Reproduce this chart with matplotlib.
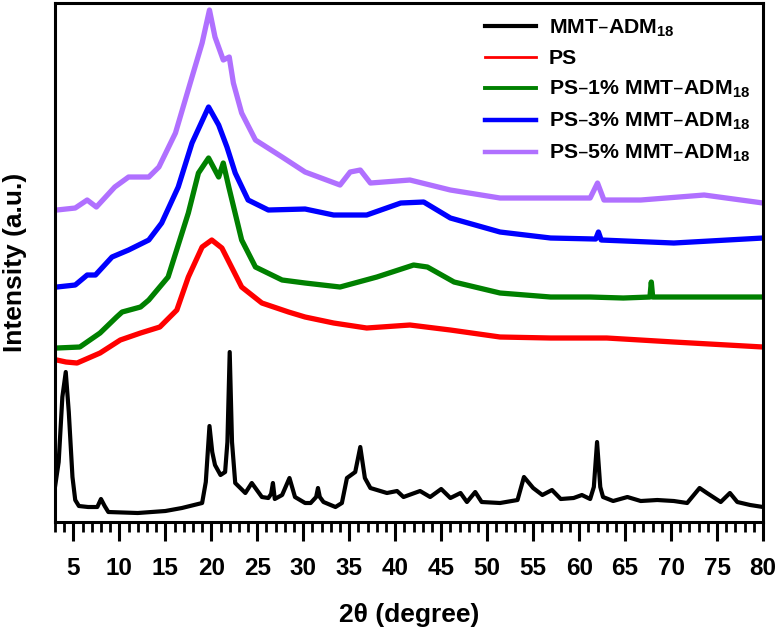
import matplotlib
matplotlib.use("Agg")
import matplotlib.pyplot as plt
from matplotlib.ticker import MultipleLocator

plt.rcParams['font.family'] = ['Liberation Sans', 'DejaVu Sans']
plt.rcParams['font.weight'] = 'bold'
plt.rcParams['mathtext.default'] = 'regular'

# ---- data (2theta in degrees, intensity in arbitrary units) ----
mmt_x = [3.0, 3.4, 3.8, 4.17, 4.5, 4.9, 5.2, 5.6, 6.6, 7.6, 8.0, 8.4, 8.8, 12.0, 15.0, 16.8,
         19.0, 19.4, 19.8, 20.1, 20.4, 21.0, 21.5, 21.75, 22.0, 22.25, 22.6, 23.7, 24.4, 25.5,
         26.2, 26.5, 26.7, 26.9, 27.7, 28.5, 29.1, 30.2, 30.8, 31.4, 31.6, 31.8, 32.2, 33.5,
         34.2, 34.75, 35.65, 36.2, 36.7, 37.3, 39.1, 40.2, 40.9, 42.7, 43.8, 45.0, 46.0, 47.1,
         47.8, 48.7, 49.4, 51.4, 53.3, 54.0, 55.0, 56.0, 57.05, 58.0, 59.4, 60.3, 61.2, 61.6,
         61.95, 62.3, 62.6, 63.7, 65.25, 66.7, 68.5, 70.3, 71.75, 73.1, 73.9, 75.4, 76.4, 77.2,
         78.6, 80.0]
mmt_y = [35, 60, 125, 150, 110, 45, 22, 16, 15, 15, 23, 16, 10, 9, 11, 14,
         19, 40, 96, 70, 57, 47, 50, 80, 170, 80, 39, 29, 39, 25,
         24, 28, 39, 23, 27, 44, 25, 19, 19, 25, 34, 25, 20, 15,
         19, 44, 50, 75, 44, 34, 29, 31, 25, 31, 25, 33, 24, 29,
         20, 30, 20, 19, 22, 45, 34, 27, 32, 23, 24, 27, 23, 35,
         80, 35, 25, 21, 25, 21, 22, 21, 19, 34, 29, 20, 29, 20,
         17, 15]

ps_x = [3.2, 4.2, 5.4, 7.9, 10.1, 12.3, 14.4, 16.25, 17.5, 19.0, 20.05, 21.15, 23.3, 25.5,
        28.4, 30.2, 33.3, 36.9, 41.6, 46.0, 51.4, 56.9, 63.0, 70.3, 80.0]
ps_y = [162, 160, 159, 169, 182, 189, 195, 212, 245, 275, 282, 274, 235, 219,
        210, 205, 199, 194, 197, 192, 185, 184, 184, 180, 175]

ps1_x = [3.2, 5.7, 7.9, 9.7, 10.3, 12.3, 13.2, 15.3, 17.5, 18.6, 19.7, 20.8, 21.3, 21.9,
         23.3, 24.8, 27.7, 30.2, 34.0, 38.0, 42.0, 43.5, 46.4, 51.4, 56.9, 61.2, 64.8,
         67.7, 67.85, 68.0, 70.3, 80.0]
ps1_y = [174, 175, 189, 205, 210, 215, 222, 245, 309, 349, 364, 345, 359, 335,
         282, 255, 242, 239, 235, 245, 257, 255, 240, 229, 225, 225, 224,
         225, 240, 225, 225, 225]

ps3_x = [3.2, 5.2, 6.5, 7.4, 9.2, 11.0, 13.2, 14.6, 16.4, 17.9, 19.7, 20.8, 21.7, 22.6,
         24.0, 26.2, 30.2, 33.3, 36.9, 40.6, 43.1, 46.0, 51.4, 56.9, 61.8, 62.1, 62.4,
         70.3, 80.0]
ps3_y = [235, 237, 247, 247, 265, 272, 282, 299, 335, 379, 415, 397, 375, 349,
         322, 312, 313, 307, 307, 319, 320, 304, 290, 284, 283, 290, 282,
         279, 284]

ps5_x = [3.2, 5.2, 6.5, 7.5, 9.5, 11.0, 13.2, 14.3, 16.1, 17.9, 19.0, 19.8, 20.4, 21.3,
         21.95, 22.4, 23.3, 24.8, 27.7, 30.2, 34.0, 35.1, 36.2, 37.3, 41.6, 46.0, 51.4,
         56.9, 61.2, 62.0, 62.7, 66.7, 73.6, 80.0]
ps5_y = [312, 314, 322, 315, 335, 345, 345, 355, 389, 445, 479, 512, 485, 462,
         465, 439, 409, 382, 365, 350, 337, 350, 352, 339, 342, 332, 324,
         324, 324, 339, 322, 322, 327, 319]

labels = ['MMT–ADM$_{18}$', 'PS', 'PS–1% MMT–ADM$_{18}$',
          'PS–3% MMT–ADM$_{18}$', 'PS–5% MMT–ADM$_{18}$']
colors = ['#000000', '#FF0000', '#008000', '#0000FF', '#B070FF']
xticks = [5, 10, 15, 20, 25, 30, 35, 40, 45, 50, 55, 60, 65, 70, 75, 80]

fig = plt.figure(figsize=(7.79, 6.29), dpi=100)
ax = fig.add_axes([0.0706, 0.1701, 0.9089, 0.8251])

series = [(mmt_x, mmt_y), (ps_x, ps_y), (ps1_x, ps1_y), (ps3_x, ps3_y), (ps5_x, ps5_y)]
widths = [3.0, 3.8, 3.8, 3.8, 3.8]
for (xs, ys), c, lab, w in zip(series, colors, labels, widths):
    ax.plot(xs, ys, color=c, lw=w, label=lab, solid_joinstyle='round')

ax.set_xlim(3, 80)
ax.set_ylim(0, 519)
ax.set_xticks(xticks)
ax.xaxis.set_minor_locator(MultipleLocator(1))
ax.set_yticks([])
ax.tick_params(axis='x', which='major', direction='out', length=14, width=2.2,
               labelsize=17.5, pad=11)
ax.tick_params(axis='x', which='minor', direction='out', length=7, width=2.0)
for s in ax.spines.values():
    s.set_linewidth(2.2)

ax.set_xlabel('2θ (degree)', fontsize=19, fontweight='bold', labelpad=17)
ax.set_ylabel('Intensity (a.u.)', fontsize=19, fontweight='bold', labelpad=20)

leg = ax.legend(loc='upper left', bbox_to_anchor=(0.607, 0.972), frameon=False,
                fontsize=15.3, handlelength=2.4, handletextpad=0.6,
                labelspacing=0.5, borderpad=0, borderaxespad=0)
lw_leg = [3.0, 2.0, 2.8, 3.2, 3.2]
for h, w in zip(leg.get_lines(), lw_leg):
    h.set_linewidth(w)

fig.savefig('out.png', dpi=100)
